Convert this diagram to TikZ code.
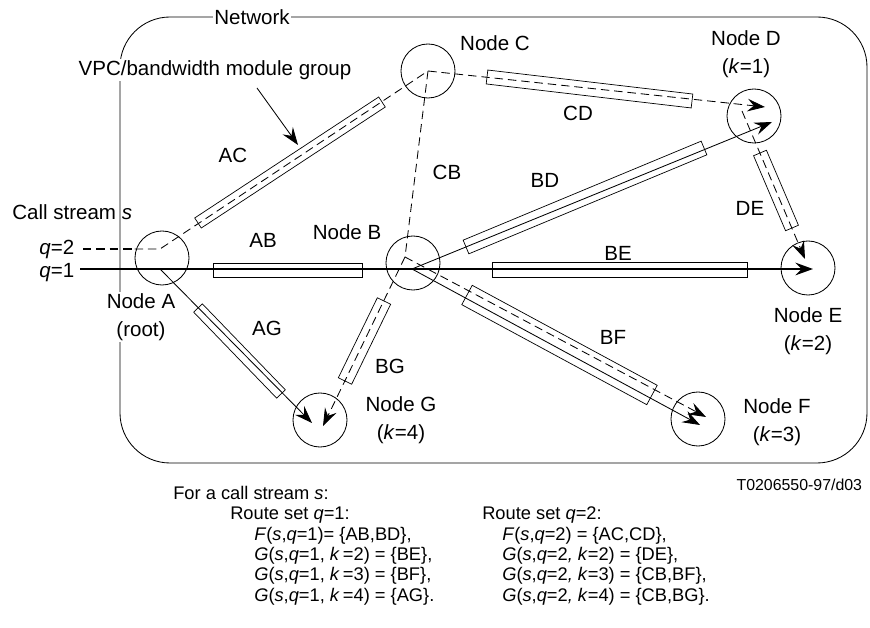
\documentclass[tikz,border=0pt]{standalone}
\usepackage{fontspec}
\setmainfont{Liberation Sans}
\usetikzlibrary{calc,arrows.meta}

\tikzset{
  site/.style={circle,draw,line width=0.6pt,minimum size=1.35cm,inner sep=0pt},
  mask/.style={fill=white,inner sep=1pt},
  boxline/.style={line width=0.5pt},
  qone/.style={line width=0.6pt,-{Stealth[length=12.5pt,width=9pt,inset=4.5pt]}},
  qtwo/.style={qone,dash pattern=on 6pt off 3.5pt},
  small/.style={font=\fontsize{13}{14.6}\selectfont,anchor=base west,inner sep=0pt},
}
% one VPC/bandwidth module group: end centres and half width
\newcommand{\vpcbox}[3]{%
  \draw[boxline] ($#1!#3!90:#2$) -- ($#2!#3!-90:#1$) -- ($#2!#3!90:#1$) -- ($#1!#3!-90:#2$) -- cycle;}

\begin{document}
\begin{tikzpicture}[x=0.025cm,y=-0.025cm,font=\fontsize{14.6}{20}\selectfont]
	\useasboundingbox (0,0) rectangle (870,628);
	%    network border
	\draw[line width=0.6pt,rounded corners=1.25cm] (120,17) rectangle (867,463);
	\node[mask] (net) at (252,17) {Network};

	% nodes
	\node[site] (A) at (162,258) {};
	\node[site] (B) at (413,263) {};
	\node[site] (C) at (428,71) {};
	\node[site] (D) at (754,116) {};
	\node[site] (E) at (808,268) {};
	\node[site] (F) at (698,419) {};
	\node[site] (G) at (320,420) {};

	% route points
	\coordinate (in1) at (80,269);
	\coordinate (in2) at (83,249);
	\coordinate (a1) at (160,269);
	\coordinate (a2) at (160,249);
	\coordinate (b1) at (412,269);
	\coordinate (b2) at (405,257);
	\coordinate (d1) at (772,122);
	\coordinate (d2) at (765,107);
	\coordinate (d3) at (742,111);
	\coordinate (e1) at (813,269);
	\coordinate (e2) at (805,259);
	\coordinate (f1) at (700,425);
	\coordinate (f2) at (706,417);
	\coordinate (g1) at (312,423);
	\coordinate (g2) at (323,426);

	% module groups
	\vpcbox{(198,223)}{(382,102)}{0.15cm}
	\vpcbox{(213,270)}{(362,270)}{0.175cm}
	\vpcbox{(487,77)}{(692,101)}{0.175cm}
	\vpcbox{(466,247)}{(704,148)}{0.185cm}
	\vpcbox{(492,270)}{(747,270)}{0.185cm}
	\vpcbox{(760,153)}{(792,228)}{0.175cm}
	\vpcbox{(467,295)}{(652,395)}{0.275cm}
	\vpcbox{(198,308)}{(281,394)}{0.15cm}
	\vpcbox{(384,301)}{(345,381)}{0.185cm}

	% route set q=1
	\draw[qone,line width=1.4pt] (in1) -- (e1);
	\draw[qone] (a1) -- (g1);
	\draw[qone] (b1) -- (d1);
	\draw[qone] (b1) -- (f1);

	% route set q=2
	\draw[qtwo,line width=1.4pt,-] (in2) -- (in2 -| A.west);
	\draw[qtwo] (in2 -| A.west) -- (a2) -- (C.center) -- (d2);
	\draw[qtwo,-] (C.center) -- (b2);
	\draw[qtwo] (b2) -- (f2);
	\draw[qtwo] (b2) -- (g2);
	\draw[qtwo] (d3) -- (e2);

	% node labels
	\node[mask,align=center] (lA) at (141,317) {Node A\\(root)};
	\node (lB) at (347,232) {Node B};
	\node (lC) at (495,43) {Node C};
	\node[align=center] (lD) at (746,54) {Node D\\(\textit{k}=1)};
	\node[align=center] (lE) at (808,331) {Node E\\(\textit{k}=2)};
	\node[align=center] (lF) at (777,422) {Node F\\(\textit{k}=3)};
	\node[align=center] (lG) at (401,420) {Node G\\(\textit{k}=4)};

	% link labels
	\node (tAC) at (233,155) {AC};
	\node (tAB) at (263,240) {AB};
	\node (tCB) at (447,172) {CB};
	\node (tCD) at (578,113) {CD};
	\node (tBD) at (545,180) {BD};
	\node (tDE) at (750,208) {DE};
	\node[mask] (tBE) at (618,253) {BE};
	\node (tAG) at (267,328) {AG};
	\node (tBG) at (390,366) {BG};
	\node (tBF) at (613,337) {BF};

	% call stream
	\node[mask] (vpc) at (215,70) {VPC/bandwidth module group};
	\coordinate (vpcfoot) at (257,88);
	\coordinate (vpctip) at (298,145);
	\draw[qone] (vpcfoot) -- (vpctip);
	\node[anchor=west,inner sep=0pt] (cs) at (12,212) {Call stream \textit{s}};
	\node[anchor=east,inner sep=1pt] (q2) at (76,249) {\textit{q}=2};
	\node[anchor=east,inner sep=1pt] (q1) at (76,273) {\textit{q}=1};

	\node[anchor=east,font=\fontsize{11.3}{13}\selectfont] (ref) at (867,485) {T0206550-97/d03};

	% route sets
	\node[small] (s0) at (173,500) {For a call stream \textit{s}:};
	\node[small] (r1) at (230,520) {Route set \textit{q}=1:};
	\node[small] (r1a) at (254,541) {\textit{F}(\textit{s},\textit{q}=1)= \{AB,BD\},};
	\node[small] (r1b) at (254,561) {\textit{G}(\textit{s},\textit{q}=1, \textit{k}\,=2) = \{BE\},};
	\node[small] (r1c) at (254,581) {\textit{G}(\textit{s},\textit{q}=1, \textit{k}\,=3) = \{BF\},};
	\node[small] (r1d) at (254,602) {\textit{G}(\textit{s},\textit{q}=1, \textit{k}\,=4) = \{AG\}.};
	\node[small] (r2) at (482,520) {Route set \textit{q}=2:};
	\node[small] (r2a) at (502,541) {\textit{F}(\textit{s},\textit{q}=2) = \{AC,CD\},};
	\node[small] (r2b) at (502,561) {\textit{G}(\textit{s},\textit{q}=2\textit{, k}=2) = \{DE\},};
	\node[small] (r2c) at (502,581) {\textit{G}(\textit{s},\textit{q}=2\textit{, k}=3) = \{CB,BF\},};
	\node[small] (r2d) at (502,602) {\textit{G}(\textit{s},\textit{q}=2\textit{, k}=4) = \{CB,BG\}.};
\end{tikzpicture}
\end{document}
